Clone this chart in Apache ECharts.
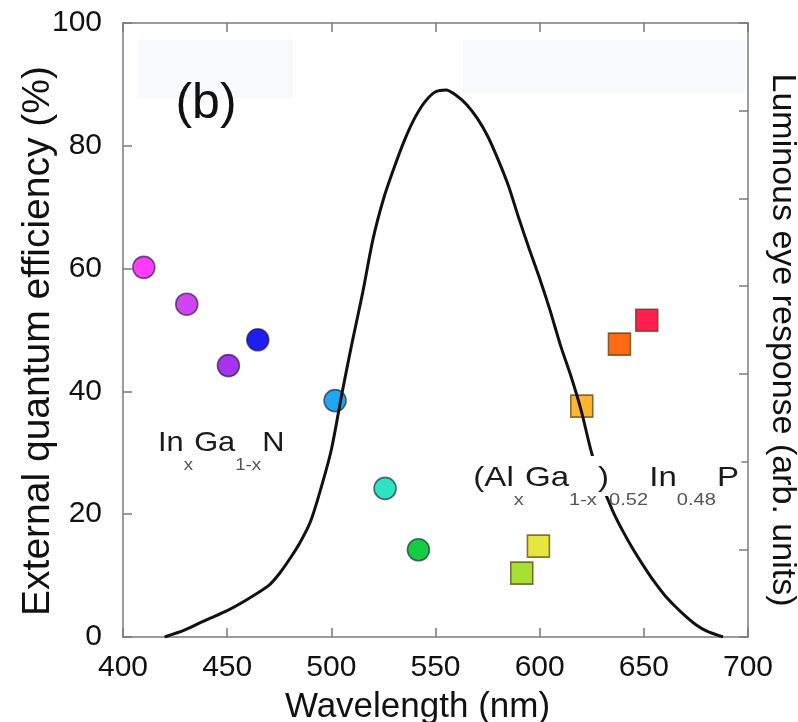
<!DOCTYPE html>
<html>
<head>
<meta charset="utf-8">
<script src="https://cdn.jsdelivr.net/npm/echarts@6/dist/echarts.min.js"></script>
<style>
  html, body { margin: 0; padding: 0; background: #fff; }
  #grafico { width: 798px; height: 722px; }
</style>
</head>
<body>
<div id="grafico"></div>
<script>
// dados
const curvaNm = [420, 430, 440, 450, 460, 470, 475, 480, 485, 490, 495, 500, 505, 510, 515, 520, 525, 530, 535, 540, 545, 550, 555, 560, 565, 570, 575, 580, 585, 590, 595, 600, 605, 610, 615, 620, 625, 630, 635, 640, 645, 650, 655, 660, 665, 670, 675, 680, 688];
const curvaVal = [0, 1.2, 2.8, 4.3, 6.2, 8.4, 10.3, 12.7, 15.4, 18.8, 24.2, 30.5, 39.5, 48, 56, 64.8, 71.3, 76.3, 80.8, 84.5, 87.2, 88.8, 89.1, 88.2, 86.7, 84.5, 81.6, 77.8, 73.5, 68.2, 63.2, 58.4, 53.2, 47.5, 42.5, 36.8, 29.9, 24.8, 20.6, 17.2, 14.2, 11.5, 9, 6.8, 5, 3.4, 2, 1, 0];

const inganNm = [410, 430.6, 450.6, 464.7, 501.8, 525.8, 541.8];
const inganEqe = [60.2, 54.2, 44.2, 48.4, 38.5, 24.2, 14.2];
const inganCores = ["#ff3cff", "#d244f0", "#a634ee", "#1e1ef0", "#1ea8f2", "#2ee2c2", "#12cc42"];

const algaNm = [591.4, 599.4, 620.2, 638.3, 651.4];
const algaEqe = [10.4, 14.8, 37.6, 47.7, 51.6];
const algaCores = ["#a6e032", "#e6e63e", "#ffb62e", "#ff6a12", "#ff2050"];

const ticksX = [400, 450, 500, 550, 600, 650, 700];
const ticksY = [0, 20, 40, 60, 80, 100];

const fonte = "'Liberation Sans', Arial, sans-serif";

let myChart = echarts.init(document.getElementById("grafico"));

let dadosCurva = curvaNm.map((x, i) => [x, curvaVal[i]]);
let dadosIngan = inganNm.map((x, i) => ({ value: [x, inganEqe[i]], itemStyle: { color: inganCores[i] } }));
let dadosAlga = algaNm.map((x, i) => ({ value: [x, algaEqe[i]], itemStyle: { color: algaCores[i] } }));

const corEixo = "#7a7a7a";
const eixoX = {
    type: "value",
    min: ticksX[0],
    max: ticksX[ticksX.length - 1],
    interval: 50,
    splitLine: { show: false },
    axisLine: { show: true, onZero: false, lineStyle: { color: corEixo, width: 1.5 } },
    axisTick: { show: true, inside: true, length: 9, lineStyle: { color: corEixo, width: 1.5 } }
};
const eixoY = {
    type: "value",
    splitLine: { show: false },
    axisLine: { show: true, onZero: false, lineStyle: { color: corEixo, width: 1.5 } },
    axisTick: { show: true, inside: true, length: 9, lineStyle: { color: corEixo, width: 1.5 } }
};

// rich text das formulas
const richFormula = {
    m: { fill: "#1a1a1a", fontSize: 28, fontFamily: fonte, lineHeight: 30, verticalAlign: "top" },
    s: { fill: "#555", fontSize: 17, fontFamily: fonte, lineHeight: 18, padding: [28, 1, 0, 0], verticalAlign: "top" }
};

let option = {
    animation: false,
    backgroundColor: "#ffffff",
    grid: { left: 123, right: 50, top: 23, bottom: 85, outerBoundsMode: "none", containLabel: false },
    xAxis: [
        Object.assign({}, eixoX, {
            position: "bottom",
            axisLabel: { color: "#111", fontSize: 30, fontFamily: fonte, margin: 16 },
            name: "Wavelength (nm)",
            nameLocation: "middle",
            nameGap: 53,
            nameTextStyle: { color: "#111", fontSize: 35, fontFamily: fonte, padding: [0, 36, 0, 0] }
        }),
        Object.assign({}, eixoX, {
            position: "top",
            axisLabel: { show: false }
        })
    ],
    yAxis: [
        Object.assign({}, eixoY, {
            position: "left",
            min: ticksY[0],
            max: ticksY[ticksY.length - 1],
            interval: 20,
            axisLabel: { color: "#111", fontSize: 30, fontFamily: fonte, margin: 21 },
            name: "External quantum efficiency (%)",
            nameLocation: "middle",
            nameRotate: 90,
            nameGap: 65,
            nameMoveOverlap: false,
            nameTextStyle: { color: "#111", fontSize: 39, fontFamily: fonte, padding: [0, 22, 0, 0] }
        }),
        Object.assign({}, eixoY, {
            position: "right",
            min: 0,
            max: 7,
            interval: 1,
            axisLabel: { show: false },
            name: "Luminous eye response (arb. units)",
            nameLocation: "middle",
            nameRotate: -90,
            nameGap: 17,
            nameTextStyle: { color: "#111", fontSize: 34, fontFamily: fonte, padding: [0, 0, 0, 20] }
        })
    ],
    graphic: [
        { type: "rect", z: -1, shape: { x: 138, y: 40, width: 155, height: 58 }, style: { fill: "#f8f9fc" } },
        { type: "rect", z: -1, shape: { x: 463, y: 40, width: 282, height: 53 }, style: { fill: "#f8f9fc" } },
        {
            type: "text", z: 100, x: 206, y: 104,
            style: { text: "(b)", fill: "#111", font: "50px " + fonte, textAlign: "center", textVerticalAlign: "middle" }
        },
        {
            type: "text", z: 100, x: 158, y: 429, scaleX: 1.1,
            style: { text: "{m|In}{s|x}{m|Ga}{s|1-x}{m|N}", rich: richFormula }
        },
        {
            type: "text", z: 100, x: 471, y: 456, scaleX: 1.18,
            style: {
                text: "{m|(Al}{s|x}{m|Ga}{s|1-x}{m|)}{s|0.52}{m|In}{s|0.48}{m|P}",
                backgroundColor: "#ffffff",
                padding: [8, 2, 2, 2],
                rich: richFormula
            }
        }
    ],
    series: [
        {
            name: "InGaN",
            type: "scatter",
            xAxisIndex: 0,
            yAxisIndex: 0,
            symbol: "circle",
            symbolSize: 22,
            z: 2,
            itemStyle: { borderColor: "rgba(30,30,60,0.65)", borderWidth: 1.6, opacity: 1 },
            data: dadosIngan
        },
        {
            name: "AlGaInP",
            type: "scatter",
            xAxisIndex: 0,
            yAxisIndex: 0,
            symbol: "rect",
            symbolSize: 22,
            z: 2,
            itemStyle: { borderColor: "rgba(80,60,10,0.7)", borderWidth: 1.6, opacity: 1 },
            data: dadosAlga
        },
        {
            name: "olho",
            type: "line",
            xAxisIndex: 0,
            yAxisIndex: 0,
            smooth: 0.3,
            showSymbol: false,
            z: 3,
            lineStyle: { color: "#111", width: 3 },
            data: dadosCurva
        }
    ]
};

myChart.setOption(option);
</script>
</body>
</html>
